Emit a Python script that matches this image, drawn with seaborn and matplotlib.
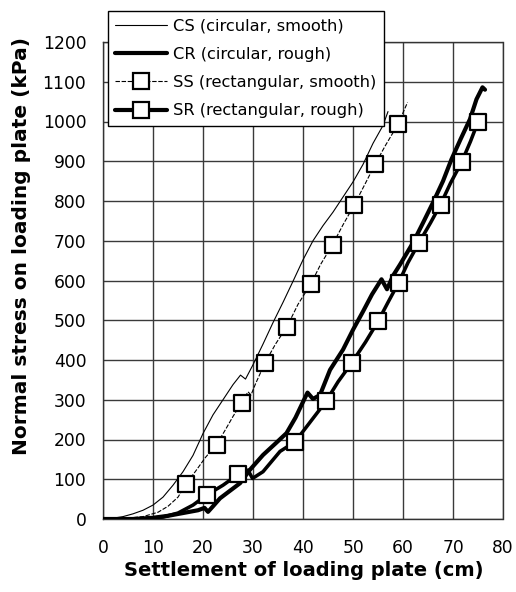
import matplotlib
matplotlib.use("Agg")
import matplotlib.pyplot as plt
from matplotlib.lines import Line2D
import seaborn as sns
import pandas as pd

# ---- data ----
cs_x = [0, 2, 4, 6, 8, 10, 12, 14, 16, 18, 20, 22, 24, 26, 27.5, 28.5, 30, 32, 34, 36,
        38, 40, 42, 44, 46, 48, 50, 52, 54, 56, 57.0]
cs_y = [0, 2, 6, 13, 22, 35, 55, 85, 119, 160, 215, 262, 300, 338, 362, 352, 388, 440,
        494, 545, 598, 652, 700, 738, 772, 810, 848, 892, 945, 990, 1025]

cr_x = [0, 6, 10, 13, 16, 19, 20.3, 21, 22, 23.4, 25.5, 27.4, 29.4, 32, 34.5, 36.7, 38.5,
        40.4, 40.9, 42, 43.4, 45.4, 48, 50, 52, 53.8, 55.7, 56.8, 58, 59.4, 62, 64, 66,
        68, 69.7, 71.5, 73.4, 74.7, 75.9, 76.4]
cr_y = [0, 0, 3, 8, 15, 22, 28, 18, 32, 52, 72, 90, 124, 161, 190, 216, 255, 305, 318,
        302, 312, 375, 426, 476, 522, 565, 603, 578, 612, 640, 695, 745, 796, 850, 905,
        955, 1006, 1056, 1086, 1080]

ss_x = [0, 4, 8, 11, 13, 15, 16.6, 18.5, 20.5, 22.7, 24.5, 26, 27.7, 29, 29.6, 30.5,
        32.4, 34.5, 36.8, 39, 41.6, 43.5, 45.9, 48, 50.2, 52.5, 54.4, 56.5, 59.0, 60.9]
ss_y = [0, 1, 6, 17, 32, 55, 88, 120, 155, 187, 225, 258, 292, 320, 312, 340, 393, 440,
        484, 540, 592, 640, 690, 740, 789, 845, 892, 940, 993, 1048]
ss_mark_x = [16.6, 22.7, 27.7, 32.4, 36.8, 41.6, 45.9, 50.2, 54.4, 59.0]
ss_mark_y = [88, 187, 292, 393, 484, 592, 690, 789, 892, 993]

sr_x = [0, 8, 12, 15, 18, 20.7, 24, 27, 29, 29.9, 32, 35.4, 38.4, 41.5, 44.6, 47, 49.7,
        52.5, 55, 57, 59.1, 61, 63.2, 65.5, 67.5, 69.5, 71.7, 73.5, 75.0, 76.0]
sr_y = [0, 0, 5, 15, 35, 60, 85, 112, 123, 102, 119, 170, 194, 245, 296, 345, 392, 445,
        497, 545, 594, 645, 695, 745, 791, 845, 897, 950, 999, 1010]
sr_mark_x = [20.7, 27.0, 38.4, 44.6, 49.7, 55.0, 59.1, 63.2, 67.5, 71.7, 75.0]
sr_mark_y = [60, 112, 194, 296, 392, 497, 594, 695, 791, 897, 999]

labels = ["CS (circular, smooth)", "CR (circular, rough)",
          "SS (rectangular, smooth)", "SR (rectangular, rough)"]
x_ticks = [0, 10, 20, 30, 40, 50, 60, 70, 80]
y_ticks = [0, 100, 200, 300, 400, 500, 600, 700, 800, 900, 1000, 1100, 1200]

# ---- figure ----
sns.set_theme(style="white")
plt.rcParams["font.family"] = ["DejaVu Sans"]
plt.rcParams["text.color"] = "black"
plt.rcParams["axes.labelcolor"] = "black"

fig = plt.figure(figsize=(5.16, 5.92), dpi=100)
ax = fig.add_axes([103 / 516, 1 - 519 / 592, 400 / 516, 477 / 592])

thin_w = 0.8
thick_w = 3.0
msize = 132

sns.lineplot(x=cs_x, y=cs_y, ax=ax, sort=False, estimator=None, color="black",
             lw=thin_w, zorder=3)
sns.lineplot(x=ss_x, y=ss_y, ax=ax, sort=False, estimator=None, color="black",
             lw=thin_w, linestyle=(0, (4, 1.5)), zorder=3)
sns.lineplot(x=cr_x, y=cr_y, ax=ax, sort=False, estimator=None, color="black",
             lw=thick_w, zorder=3)
sns.lineplot(x=sr_x, y=sr_y, ax=ax, sort=False, estimator=None, color="black",
             lw=thick_w * 0.85, zorder=3)
sns.scatterplot(x=ss_mark_x, y=ss_mark_y, ax=ax, marker="s", s=msize, color="white",
                edgecolor="black", linewidth=1.6, zorder=4)
sns.scatterplot(x=sr_mark_x, y=sr_mark_y, ax=ax, marker="s", s=msize, color="white",
                edgecolor="black", linewidth=1.6, zorder=4)

ax.set_xlim(0, 80)
ax.set_ylim(0, 1200)
ax.set_xticks(x_ticks)
ax.set_yticks(y_ticks)
ax.set_xticklabels([str(v) for v in x_ticks])
ax.set_yticklabels([str(v) for v in y_ticks])
ax.tick_params(axis="both", length=0, labelsize=12.3, colors="black")
ax.tick_params(axis="x", pad=14.5)
ax.tick_params(axis="y", pad=12)

ax.grid(True, color="#3a3a3a", lw=1.0, linestyle="-")
ax.set_axisbelow(True)
for side in ["top", "right", "bottom", "left"]:
    sp = ax.spines[side]
    sp.set_visible(True)
    sp.set_color("#333333")
    sp.set_linewidth(1.0)
    sp.set_linestyle((0, (1.2, 1.0)))

ax.set_xlabel("Settlement of loading plate (cm)", fontsize=14, fontweight="bold",
              color="black")
ax.set_ylabel("Normal stress on loading plate (kPa)", fontsize=14.5, fontweight="bold",
              color="black")
ax.xaxis.label.set_verticalalignment("center")
ax.xaxis.set_label_coords((304 - 103) / 400, (519 - 570) / 477)
ax.yaxis.label.set_verticalalignment("center")
ax.yaxis.set_label_coords((22 - 103) / 400, (519 - 246) / 477)

handles = [
    Line2D([], [], color="black", lw=thin_w),
    Line2D([], [], color="black", lw=thick_w),
    Line2D([], [], color="black", lw=thin_w, linestyle=(0, (4, 1.5)), marker="s",
           markersize=11.5, markerfacecolor="white", markeredgecolor="black",
           markeredgewidth=1.6),
    Line2D([], [], color="black", lw=thick_w, marker="s", markersize=11.5,
           markerfacecolor="white", markeredgecolor="black", markeredgewidth=1.6),
]
leg = fig.legend(handles, labels, loc="upper left",
                 bbox_to_anchor=(108 / 516, 1 - 11 / 592), bbox_transform=fig.transFigure,
                 fontsize=11.7, frameon=True, fancybox=False, framealpha=1,
                 edgecolor="black", handlelength=3.2, handletextpad=0.35,
                 labelspacing=0.82, borderpad=0.45, borderaxespad=0)
leg.get_frame().set_linewidth(1.0)
leg.set_zorder(10)

fig.savefig("out.png", dpi=100)
